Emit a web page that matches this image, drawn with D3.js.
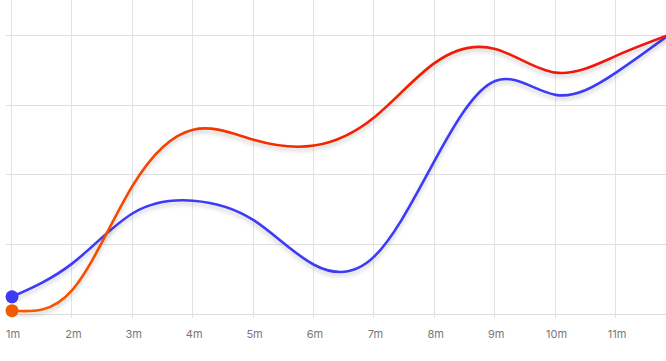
<!DOCTYPE html>
<html>
<head>
<meta charset="utf-8">
<script src="https://cdn.jsdelivr.net/npm/d3@7"></script>
<style>
  html, body { margin: 0; padding: 0; background: #fff; }
  svg { display: block; }
  .tick-label { font-family: Inter, "DejaVu Sans", sans-serif; font-size: 11px; fill: #777; }
</style>
</head>
<body>
<svg id="chart" width="666" height="361"></svg>
<script>
// data
const months = [1, 2, 3, 4, 5, 6, 7, 8, 9, 10, 11, 12];
const tickLabels = ['1m', '2m', '3m', '4m', '5m', '6m', '7m', '8m', '9m', '10m', '11m'];
const blueValues = [6, 18, 36, 40.5, 33.5, 17.5, 20.5, 55, 83.5, 78.5, 86.5, 102];
const redValues = [1, 8.5, 46, 66, 62.4, 60.3, 70.5, 90, 95, 86.5, 92.5, 101];
const yTicks = [0, 25, 50, 75, 100];

const svg = d3.select('#chart'),
    W = 666, H = 361;

const x = d3.scaleLinear().domain([1, 12]).range([12, 676.4]);
const y = d3.scaleLinear().domain([0, 100]).range([313.5, 35]);

const defs = svg.append('defs');

// red line gradient
const grad = defs.append('linearGradient')
    .attr('id', 'redGrad')
    .attr('gradientUnits', 'userSpaceOnUse')
    .attr('x1', 12).attr('x2', 666).attr('y1', 0).attr('y2', 0);
grad.append('stop').attr('offset', '0%').attr('stop-color', '#f25e00');
grad.append('stop').attr('offset', '50%').attr('stop-color', '#f12200');
grad.append('stop').attr('offset', '100%').attr('stop-color', '#ee1414');

// soft shadow
const f = defs.append('filter').attr('id', 'shadow')
    .attr('x', '-10%').attr('y', '-10%').attr('width', '120%').attr('height', '130%');
f.append('feDropShadow')
    .attr('dx', 0).attr('dy', 3).attr('stdDeviation', 2)
    .attr('flood-color', '#000').attr('flood-opacity', 0.2);

// grid
const grid = svg.append('g');
grid.selectAll('line.v')
    .data(months.slice(0, 11))
    .enter().append('line')
    .attr('x1', d => Math.round(x(d)) - 0.5)
    .attr('x2', d => Math.round(x(d)) - 0.5)
    .attr('y1', 0).attr('y2', 318)
    .attr('stroke', '#e2e2e2')
    .attr('stroke-width', 1);
grid.selectAll('line.h')
    .data(yTicks)
    .enter().append('line')
    .attr('x1', 6).attr('x2', W)
    .attr('y1', d => Math.round(y(d)) + 0.5)
    .attr('y2', d => Math.round(y(d)) + 0.5)
    .attr('stroke', '#dedede')
    .attr('stroke-width', 1);

// x labels
svg.append('g').selectAll('text')
    .data(tickLabels)
    .enter().append('text')
    .attr('class', 'tick-label')
    .attr('x', (d, i) => x(months[i]) + 1)
    .attr('y', 338)
    .attr('text-anchor', 'middle')
    .text(d => d);

// lines
const line = d3.line()
    .x((d, i) => x(months[i]))
    .y(d => y(d))
    .curve(d3.curveNatural);

defs.append('clipPath').attr('id', 'clip')
    .append('rect').attr('x', 0).attr('y', 0).attr('width', W).attr('height', H);

const plot = svg.append('g').attr('clip-path', 'url(#clip)');

plot.append('path')
    .datum(blueValues)
    .attr('d', line)
    .attr('fill', 'none')
    .attr('stroke', '#3d3af5')
    .attr('stroke-width', 2.6)
    .attr('filter', 'url(#shadow)');

plot.append('path')
    .datum(redValues)
    .attr('d', line)
    .attr('fill', 'none')
    .attr('stroke', 'url(#redGrad)')
    .attr('stroke-width', 2.6)
    .attr('filter', 'url(#shadow)');

// start dots
svg.append('circle')
    .attr('cx', x(months[0])).attr('cy', y(blueValues[0]))
    .attr('r', 6.5).attr('fill', '#3d3af5');
svg.append('circle')
    .attr('cx', x(months[0])).attr('cy', y(redValues[0]))
    .attr('r', 6.5).attr('fill', '#f05a00');
</script>
</body>
</html>
